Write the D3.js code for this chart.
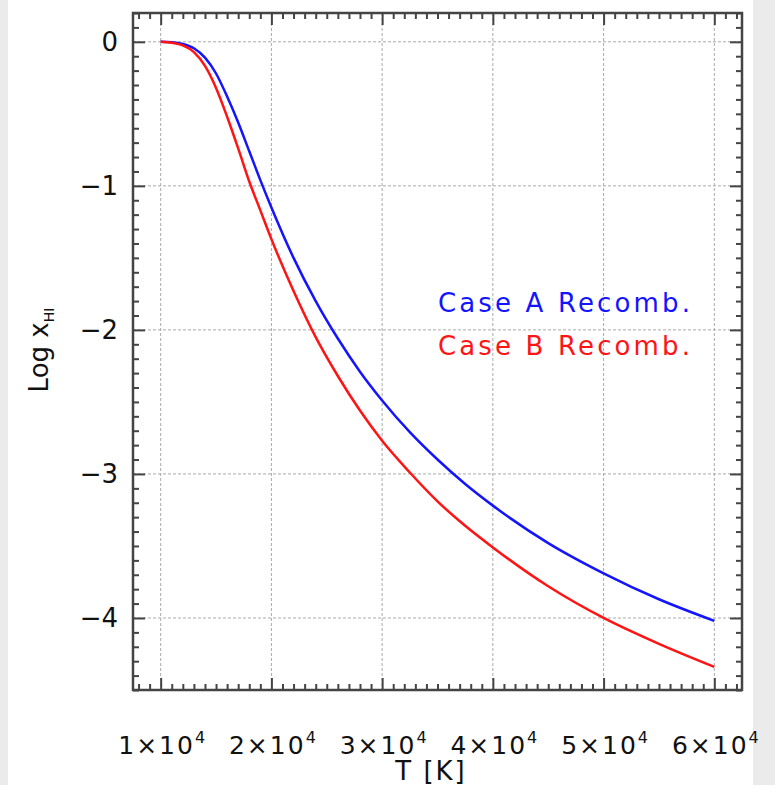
<!DOCTYPE html>
<html>
<head>
<meta charset="utf-8">
<script src="https://cdn.jsdelivr.net/npm/d3@7"></script>
<style>
    body { margin: 0; background: #fff; }
    svg { display: block; }
    text { font-family: "DejaVu Sans", sans-serif; fill: #111; }
</style>
</head>
<body>
<svg width="775" height="785"></svg>
<script>
// temperature (K) and log neutral fraction
var temps = [10000, 11000, 12000, 13000, 14000, 15000, 16000, 17000, 18000, 19000,
             20000, 22000, 24000, 26000, 28000, 30000, 32500, 35000, 37500, 40000,
             45000, 50000, 55000, 60000];
var caseA = [0, -0.003, -0.015, -0.045, -0.11, -0.22, -0.38, -0.56, -0.76, -0.96,
             -1.15, -1.50, -1.80, -2.06, -2.29, -2.49, -2.71, -2.90, -3.07, -3.22,
             -3.48, -3.69, -3.87, -4.02];
var caseB = [0, -0.007, -0.025, -0.072, -0.167, -0.32, -0.52, -0.74, -0.97, -1.17,
             -1.37, -1.73, -2.05, -2.32, -2.56, -2.77, -2.99, -3.19, -3.36, -3.51,
             -3.78, -4.00, -4.18, -4.34];

var xTicks = [10000, 20000, 30000, 40000, 50000, 60000];
var xTickLabels = ["1\u00d710", "2\u00d710", "3\u00d710", "4\u00d710", "5\u00d710", "6\u00d710"];
var yTicks = [0, -1, -2, -3, -4];
var yTickLabels = ["0", "\u22121", "\u22122", "\u22123", "\u22124"];
var seriesNames = ["Case A Recomb.", "Case B Recomb."];

var svg = d3.select("svg"),
    margin = {
        top: 13,
        right: 33,
        bottom: 95,
        left: 133
    },
    width = +svg.attr("width") - margin.left - margin.right,
    height = +svg.attr("height") - margin.top - margin.bottom;

// grey page edges
svg.append("rect").attr("x", 0).attr("y", 0).attr("width", 8).attr("height", 785).attr("fill", "#ebebeb");
svg.append("rect").attr("x", 753).attr("y", 0).attr("width", 22).attr("height", 785).attr("fill", "#ebebeb");

var x = d3.scaleLinear().domain([7500, 62500]).range([0, width]),
    y = d3.scaleLinear().domain([-4.5, 0.2]).range([height, 0]);

var g = svg.append("g")
    .attr("transform", "translate(" + margin.left + "," + margin.top + ")");

// dotted grid
g.selectAll(".gx").data(xTicks).enter().append("line")
    .attr("x1", function(d) { return x(d); })
    .attr("x2", function(d) { return x(d); })
    .attr("y1", 0).attr("y2", height)
    .style("stroke", "#aaa").style("stroke-width", 1).style("stroke-dasharray", "3,2");
g.selectAll(".gy").data(yTicks).enter().append("line")
    .attr("y1", function(d) { return y(d); })
    .attr("y2", function(d) { return y(d); })
    .attr("x1", 0).attr("x2", width)
    .style("stroke", "#aaa").style("stroke-width", 1).style("stroke-dasharray", "3,2");

// inward ticks on all four sides
var xMinor = d3.range(8000, 62001, 1000).filter(function(v) { return v % 10000 !== 0; });
var yMinor = d3.range(-45, 3).map(function(v) { return v / 10; }).filter(function(v) { return v % 1 !== 0; });

function tickAxis(axis, vals, size, tr) {
    var a = g.append("g")
        .attr("transform", tr)
        .call(axis.tickValues(vals).tickSize(-size).tickFormat(""));
    a.select(".domain").remove();
    a.selectAll("line").style("stroke", "#444").style("stroke-width", 2);
}
tickAxis(d3.axisBottom(x), xTicks, 12, "translate(0," + height + ")");
tickAxis(d3.axisBottom(x), xMinor, 6, "translate(0," + height + ")");
tickAxis(d3.axisTop(x), xTicks, 12, "translate(0,0)");
tickAxis(d3.axisTop(x), xMinor, 6, "translate(0,0)");
tickAxis(d3.axisLeft(y), yTicks, 12, "translate(0,0)");
tickAxis(d3.axisLeft(y), yMinor, 6, "translate(0,0)");
tickAxis(d3.axisRight(y), yTicks, 12, "translate(" + width + ",0)");
tickAxis(d3.axisRight(y), yMinor, 6, "translate(" + width + ",0)");

g.append("rect")
    .attr("width", width).attr("height", height)
    .style("fill", "none").style("stroke", "#444").style("stroke-width", 2.5);

// curves
var colors = ["#1414ff", "#ff1414"];
[caseA, caseB].forEach(function(vals, i) {
    var line = d3.line()
        .curve(d3.curveMonotoneX)
        .x(function(d, j) { return x(temps[j]); })
        .y(function(d) { return y(d); });
    g.append("path")
        .datum(vals)
        .style("stroke", colors[i])
        .style("stroke-width", 2.5)
        .style("fill", "none")
        .attr("d", line);

    g.append("text")
        .attr("x", 438 - margin.left)
        .attr("y", 312 + i * 43 - margin.top)
        .attr("textLength", 252)
        .attr("lengthAdjust", "spacing")
        .style("font-size", "26px")
        .style("fill", colors[i])
        .text(seriesNames[i]);
});

// tick labels
g.selectAll(".ylab").data(yTicks).enter().append("text")
    .attr("x", -15)
    .attr("y", function(d) { return y(d) + 9; })
    .attr("text-anchor", "end")
    .style("font-size", "26px")
    .text(function(d, i) { return yTickLabels[i]; });

var xl = g.selectAll(".xlab").data(xTicks).enter().append("text")
    .attr("x", function(d) { return x(d) + 2; })
    .attr("y", height + 64)
    .attr("text-anchor", "middle")
    .style("font-size", "25px")
    .style("letter-spacing", "2px");
xl.append("tspan").text(function(d, i) { return xTickLabels[i]; });
xl.append("tspan").attr("dy", -11).style("font-size", "16px").text("4");

// axis titles
svg.append("text")
    .attr("x", 431)
    .attr("y", 780)
    .attr("text-anchor", "middle")
    .style("font-size", "26px")
    .style("letter-spacing", "2px")
    .text("T [K]");

var yt = svg.append("text")
    .attr("transform", "translate(48,350) rotate(-90)")
    .attr("text-anchor", "middle")
    .style("font-size", "26px");
yt.append("tspan").text("Log  x");
yt.append("tspan").attr("dy", 6).style("font-size", "14px").text("HI");
</script>
</body>
</html>
